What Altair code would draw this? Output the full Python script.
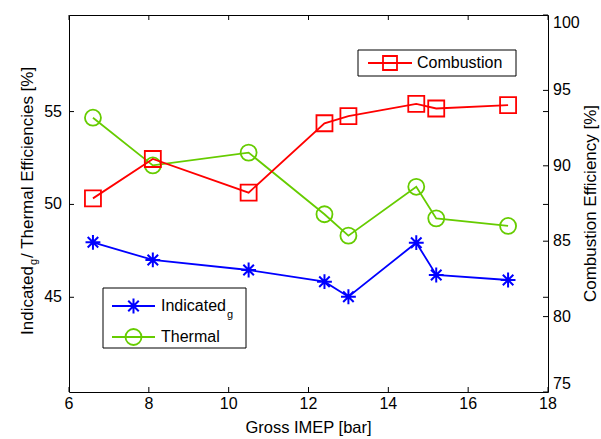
import altair as alt
import pandas as pd

# Engine efficiencies versus gross IMEP
gross_imep = [6.6, 8.1, 10.5, 12.4, 13.0, 14.7, 15.2, 17.0]
indicated_eff = [47.96, 47.01, 46.47, 45.84, 45.03, 47.94, 46.2, 45.93]
thermal_eff = [54.67, 52.1, 52.79, 49.47, 48.32, 50.95, 49.25, 48.84]
combustion_eff = [87.84, 90.45, 88.22, 92.82, 93.3, 94.1, 93.8, 94.03]

x_ticks = [6, 8, 10, 12, 14, 16, 18]
left_ticks = [45, 50, 55]
right_ticks = [75, 80, 85, 90, 95, 100]

W, H = 479, 377
FONT = "Liberation Sans"
FS = 16
TFS = 17
LW = 1.8
BLUE = "#0000ff"
GREEN = "#66cc00"
RED = "#ff0000"
STAR = "M0,-1L0,1M-1,0L1,0M-0.71,-0.71L0.71,0.71M-0.71,0.71L0.71,-0.71"
TICK = 5

df = pd.DataFrame({"imep": gross_imep, "ind": indicated_eff,
                   "th": thermal_eff, "comb": combustion_eff})
xt = pd.DataFrame({"t": x_ticks})
lt = pd.DataFrame({"t": left_ticks})
rt = pd.DataFrame({"t": right_ticks})
rt_mid = pd.DataFrame({"t": right_ticks[1:-1]})
rt_lo = pd.DataFrame({"t": right_ticks[:1]})
rt_hi = pd.DataFrame({"t": right_ticks[-1:]})
one = pd.DataFrame({"k": [0]})

x_scale = alt.Scale(domain=[6, 18], nice=False, zero=False)
left_scale = alt.Scale(domain=[39.9, 60.2], nice=False, zero=False)
right_scale = alt.Scale(domain=[75, 100], nice=False, zero=False)


def xenc(field="imep"):
    return alt.X(f"{field}:Q", scale=x_scale, axis=None)


def yenc(field, scale):
    return alt.Y(f"{field}:Q", scale=scale, axis=None)


def tick_text(data, scale, x, align, baseline):
    return alt.Chart(data).mark_text(font=FONT, fontSize=FS, color="black",
                                     align=align, baseline=baseline).encode(
        y=yenc("t", scale), x=alt.value(x), text=alt.Text("t:Q"))


# left scale group: indicated and thermal efficiencies, left ticks, x ticks
th_line = alt.Chart(df).mark_line(color=GREEN, strokeWidth=LW).encode(
    x=xenc(), y=yenc("th", left_scale))
th_pts = alt.Chart(df).mark_point(shape="circle", filled=False, stroke=GREEN,
                                  strokeWidth=1.8, size=256, opacity=1).encode(
    x=xenc(), y=yenc("th", left_scale))
ind_line = alt.Chart(df).mark_line(color=BLUE, strokeWidth=LW).encode(
    x=xenc(), y=yenc("ind", left_scale))
ind_pts = alt.Chart(df).mark_point(shape=STAR, filled=False, stroke=BLUE,
                                   strokeWidth=2, size=220, opacity=1).encode(
    x=xenc(), y=yenc("ind", left_scale))
lt_l = alt.Chart(lt).mark_rule(color="black").encode(
    y=yenc("t", left_scale), x=alt.value(0), x2=alt.value(TICK))
lt_r = alt.Chart(lt).mark_rule(color="black").encode(
    y=yenc("t", left_scale), x=alt.value(W - TICK), x2=alt.value(W))
lt_lab = tick_text(lt, left_scale, -7, "right", "middle")
xt_b = alt.Chart(xt).mark_rule(color="black").encode(
    x=xenc("t"), y=alt.value(H), y2=alt.value(H - TICK))
xt_t = alt.Chart(xt).mark_rule(color="black").encode(
    x=xenc("t"), y=alt.value(0), y2=alt.value(TICK))
xt_lab = alt.Chart(xt).mark_text(font=FONT, fontSize=FS, color="black",
                                 align="center", baseline="top").encode(
    x=xenc("t"), y=alt.value(H + 4), text=alt.Text("t:Q"))
left = alt.layer(th_line, ind_line, th_pts, ind_pts, lt_l, lt_r, lt_lab,
                 xt_b, xt_t, xt_lab)

# right scale group: combustion efficiency and its ticks
comb_line = alt.Chart(df).mark_line(color=RED, strokeWidth=LW).encode(
    x=xenc(), y=yenc("comb", right_scale))
comb_pts = alt.Chart(df).mark_point(shape="square", filled=False, stroke=RED,
                                    strokeWidth=1.8, size=256, opacity=1).encode(
    x=xenc(), y=yenc("comb", right_scale))
rt_r = alt.Chart(rt).mark_rule(color="black").encode(
    y=yenc("t", right_scale), x=alt.value(W - TICK), x2=alt.value(W))
right = alt.layer(
    comb_line, comb_pts, rt_r,
    tick_text(rt_mid, right_scale, W + 5, "left", "middle"),
    tick_text(rt_lo, right_scale, W + 5, "left", "bottom"),
    tick_text(rt_hi, right_scale, W + 5, "left", "top"),
)


def label(text, x, y, size=FS, angle=0, align="left", baseline="middle"):
    if angle:
        mark = alt.Chart(one).mark_text(text=text, font=FONT, fontSize=size, color="black",
                                        angle=angle, align=align, baseline=baseline)
    else:
        mark = alt.Chart(one).mark_text(text=text, font=FONT, fontSize=size, color="black",
                                        align=align, baseline=baseline)
    return mark.encode(x=alt.value(x), y=alt.value(y))


# axis titles
titles = alt.layer(
    label("Gross IMEP [bar]", W / 2, H + 41, size=16.5, align="center",
          baseline="alphabetic"),
    label("Indicated", -36, 320, size=TFS, angle=270, baseline="alphabetic"),
    label("g", -32, 250, size=11, angle=270, baseline="alphabetic"),
    label(" / Thermal Efficiencies [%]", -36, 243, size=TFS, angle=270,
          baseline="alphabetic"),
    label("Combustion Efficiency [%]", 527, H / 2, size=TFS, angle=270,
          align="center", baseline="alphabetic"),
)


# legend boxes
def box(x1, x2, y1, y2):
    return alt.Chart(one).mark_rect(fill="white", stroke="black", strokeWidth=1).encode(
        x=alt.value(x1), x2=alt.value(x2), y=alt.value(y1), y2=alt.value(y2))


def sample(x1, x2, y, color, shape, size, sw=1.8):
    line = alt.Chart(one).mark_rule(color=color, strokeWidth=LW).encode(
        x=alt.value(x1), x2=alt.value(x2), y=alt.value(y))
    sym = alt.Chart(one).mark_point(shape=shape, filled=False, stroke=color,
                                    strokeWidth=sw, size=size, opacity=1).encode(
        x=alt.value((x1 + x2) / 2), y=alt.value(y))
    return alt.layer(line, sym)


legend_comb = alt.layer(
    box(289, 447, 35, 61),
    sample(299, 343, 48, RED, "square", 196),
    label("Combustion", 348, 48),
)
legend_left = alt.layer(
    box(34, 177, 273, 333),
    sample(43, 86, 291, BLUE, STAR, 220, sw=2),
    label("Indicated", 92, 291),
    label("g", 158, 300, size=11),
    sample(43, 86, 322, GREEN, "circle", 256),
    label("Thermal", 92, 322),
)

chart = alt.layer(left, right, titles, legend_comb, legend_left).resolve_scale(
    y="independent"
).properties(
    width=W, height=H,
    autosize=alt.AutoSizeParams(type="none"),
    padding={"left": 69, "top": 15, "right": 53, "bottom": 47},
).configure_view(
    stroke="black", strokeWidth=1
)

chart.save("out.html", embed_options={"renderer": "svg", "actions": False})
